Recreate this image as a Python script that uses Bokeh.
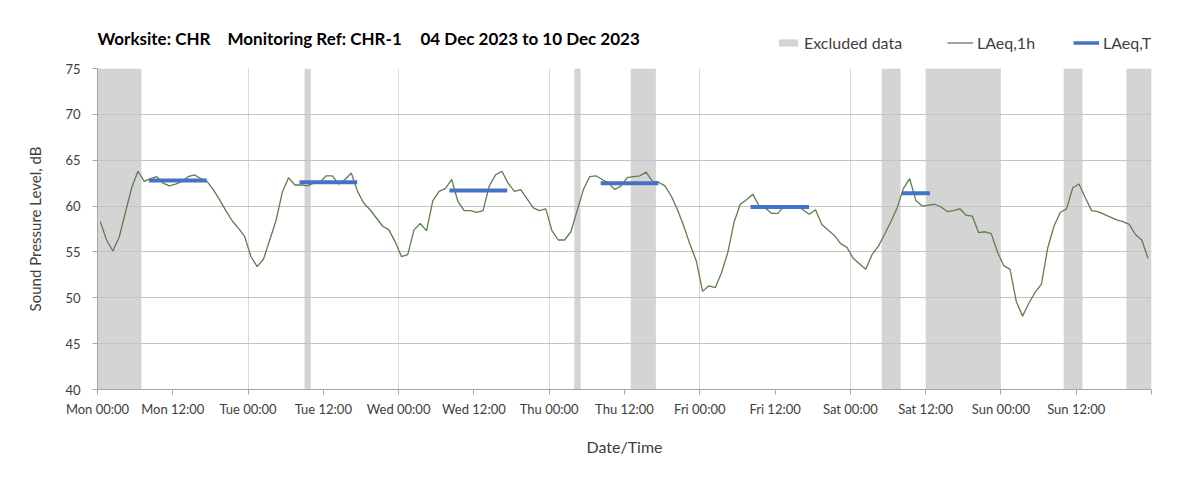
from bokeh.plotting import figure
from bokeh.layouts import column
from bokeh.models import Range1d, FixedTicker, Legend, LegendItem, Label
from bokeh.embed import file_html
from bokeh.resources import INLINE

# ---------------- data ----------------
# hourly LAeq,1h values, one per hour starting Mon 04 Dec 2023 00:00
laeq_1h = [
    # Mon
    58.3, 56.3, 55.1, 56.6, 59.3, 62.0, 63.8, 62.7, 63.0, 63.2, 62.5, 62.2,
    62.4, 62.7, 63.2, 63.4, 63.0, 62.7, 61.8, 60.7, 59.5, 58.4, 57.6, 56.7,
    # Tue
    54.5, 53.4, 54.2, 56.3, 58.4, 61.5, 63.1, 62.3, 62.3, 62.2, 62.5, 62.6,
    63.3, 63.3, 62.4, 62.9, 63.6, 61.6, 60.3, 59.6, 58.7, 57.8, 57.4, 56.1,
    # Wed
    54.5, 54.7, 57.4, 58.1, 57.3, 60.6, 61.6, 61.9, 62.9, 60.5, 59.5, 59.5,
    59.3, 59.5, 62.2, 63.4, 63.8, 62.5, 61.6, 61.8, 60.8, 59.8, 59.5, 59.7,
    # Thu
    57.3, 56.3, 56.3, 57.2, 59.5, 61.8, 63.2, 63.3, 62.9, 62.5, 61.8, 62.2,
    63.1, 63.2, 63.3, 63.7, 62.7, 62.6, 62.2, 61.1, 59.6, 57.8, 55.8, 54.0,
    # Fri
    50.7, 51.3, 51.1, 52.7, 54.9, 58.2, 60.2, 60.7, 61.3, 60.0, 59.8, 59.2,
    59.2, 60.0, 59.8, 60.0, 59.6, 59.1, 59.6, 58.0, 57.4, 56.8, 55.9, 55.5,
    # Sat
    54.3, 53.7, 53.1, 54.7, 55.6, 56.9, 58.3, 59.8, 61.9, 63.0, 60.6, 60.0,
    60.1, 60.2, 59.9, 59.4, 59.5, 59.7, 59.0, 58.9, 57.1, 57.2, 57.0, 55.0,
    # Sun
    53.5, 53.1, 49.6, 48.0, 49.4, 50.6, 51.5, 55.4, 57.8, 59.3, 59.7, 62.0,
    62.4, 60.9, 59.5, 59.4, 59.1, 58.8, 58.5, 58.3, 58.0, 56.9, 56.3, 54.3,
]
hours = list(range(len(laeq_1h)))  # hour index from Mon 00:00

# excluded periods (hours from Mon 00:00)
excl_start = [0, 33, 76, 85, 125, 132, 154, 164]
excl_end = [7, 34, 77, 89, 128, 144, 157, 168]

# LAeq,T daytime periods (hours from Mon 00:00) and levels
laeqT_start = [8.2, 32.2, 56.1, 80.2, 104.1, 128.2]
laeqT_end = [17.4, 41.4, 65.3, 89.4, 113.4, 132.7]
laeqT = [62.8, 62.6, 61.7, 62.5, 59.9, 61.4]

tick_hours = list(range(0, 169, 12))
tick_labels = ["Mon 00:00", "Mon 12:00", "Tue 00:00", "Tue 12:00",
               "Wed 00:00", "Wed 12:00", "Thu 00:00", "Thu 12:00",
               "Fri 00:00", "Fri 12:00", "Sat 00:00", "Sat 12:00",
               "Sun 00:00", "Sun 12:00", ""]
grid_hours = list(range(24, 169, 24))
y_ticks = [40, 45, 50, 55, 60, 65, 70, 75]

title_parts = ["Worksite: CHR", "Monitoring Ref: CHR-1", "04 Dec 2023 to 10 Dec 2023"]
legend_labels = ["Excluded data", "LAeq,1h", "LAeq,T"]

# ---------------- styling ----------------
FONT = "Lato"
TXT = "#404040"
W = 1187
TOP_H = 58
FRAME_L, FRAME_R = 97, 1151
GREEN = "#5e7d50"
BLUE = "#4472C4"
BAND = "#d4d4d4"

# ---------------- header (title + legend) ----------------
# header frame is aligned with the chart frame by the column layout,
# so its x range is expressed in page pixels
top = figure(width=W, height=TOP_H, output_backend="svg", toolbar_location=None,
             x_range=Range1d(FRAME_L, FRAME_R), y_range=Range1d(0, TOP_H),
             x_axis_type=None, y_axis_type=None,
             min_border_left=FRAME_L, min_border_right=W - FRAME_R,
             min_border_top=0, min_border_bottom=0)
top.outline_line_color = None
top.grid.visible = False
top.background_fill_color = "white"
top.border_fill_color = "white"

for txt, tx in zip(title_parts, [97, 227, 420]):
    top.add_layout(Label(x=tx, y=20, text=txt, text_font=FONT,
                         text_font_size="17px", text_font_style="bold",
                         text_color="#000000", text_baseline="middle",
                         text_align="left"))

# legend-key renderers (zero-size, outside the visible range)
d_band = top.quad(left=[0], right=[0], bottom=[0], top=[0], fill_color=BAND, line_color=None)
d_line = top.line(x=[0, 0], y=[0, 0], line_color=GREEN, line_width=1.3)
d_seg = top.line(x=[0, 0], y=[0, 0], line_color=BLUE, line_width=3.5)

for lab, r, lx, gw in zip(legend_labels, [d_band, d_line, d_seg],
                          [776, 947, 1073], [24, 26, 26]):
    lg = Legend(items=[LegendItem(label=lab, renderers=[r])],
                orientation="horizontal", location=(lx - FRAME_L, 6))
    lg.glyph_width = gw
    lg.glyph_height = 9
    lg.label_standoff = 4
    lg.padding = 0
    lg.margin = 0
    lg.border_line_color = None
    lg.background_fill_alpha = 0
    lg.label_text_font = FONT
    lg.label_text_font_size = "16px"
    lg.label_text_color = TXT
    lg.label_text_baseline = "middle"
    top.add_layout(lg, "center")

# ---------------- main chart ----------------
p = figure(width=W, height=463 - TOP_H, output_backend="svg", toolbar_location=None,
           x_range=Range1d(0, 168), y_range=Range1d(40, 75),
           min_border_left=FRAME_L, min_border_right=W - FRAME_R,
           min_border_top=10, min_border_bottom=463 - TOP_H - 10 - 321)
p.background_fill_color = "white"
p.border_fill_color = "white"
p.outline_line_color = None

band = p.quad(left=excl_start, right=excl_end, bottom=40, top=75,
              fill_color=BAND, line_color=None, level="image")

hx = [h + 0.45 for h in hours]
p.line(hx, laeq_1h, line_color=GREEN, line_width=1.3)

p.segment(x0=laeqT_start, y0=laeqT, x1=laeqT_end, y1=laeqT,
          line_color=BLUE, line_width=4)

p.xaxis.ticker = FixedTicker(ticks=tick_hours)
p.xaxis.major_label_overrides = {h: lab for h, lab in zip(tick_hours, tick_labels)}
p.yaxis.ticker = FixedTicker(ticks=y_ticks)
p.xaxis.minor_tick_line_color = None
p.yaxis.minor_tick_line_color = None
for ax in (p.xaxis[0], p.yaxis[0]):
    ax.axis_line_color = "#a6a6a6"
    ax.major_tick_line_color = "#a6a6a6"
    ax.major_tick_out = 5
    ax.major_tick_in = 0
    ax.major_label_text_font = FONT
    ax.major_label_text_font_size = "13px"
    ax.major_label_text_color = TXT
    ax.axis_label_text_font = FONT
    ax.axis_label_text_font_style = "normal"
    ax.axis_label_text_color = TXT

p.xaxis.axis_label = "Date/Time"
p.xaxis.axis_label_text_font_size = "16px"
p.xaxis.major_label_standoff = 6
p.xaxis.axis_label_standoff = 17

p.yaxis.axis_label = "Sound Pressure Level, dB"
p.yaxis.axis_label_text_font_size = "15px"
p.yaxis.major_label_standoff = 12
p.yaxis.axis_label_standoff = 18

p.xgrid.ticker = FixedTicker(ticks=grid_hours)
p.xgrid.grid_line_color = "#d9d9d9"
p.xgrid.grid_line_width = 1
p.ygrid.ticker = FixedTicker(ticks=y_ticks)
p.ygrid.grid_line_color = "#c4c4c4"
p.ygrid.grid_line_width = 1

layout = column(top, p)
open("out.html", "w").write(file_html(layout, INLINE))
